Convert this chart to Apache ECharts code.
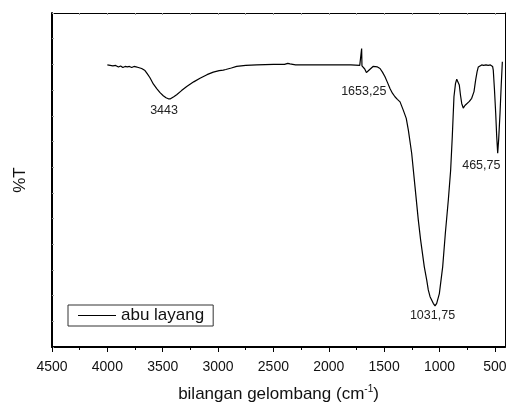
<!DOCTYPE html>
<html>
<head>
<meta charset="utf-8">
<script src="https://cdn.jsdelivr.net/npm/echarts@6/dist/echarts.min.js"></script>
<style>html,body{margin:0;padding:0;background:#fff}#c{width:506px;height:405px}</style>
</head>
<body>
<div id="c"></div>
<script>
// Wavenumber (cm^-1) and transmittance (%T, arbitrary scale)
var wavenumber = [4000,3975,3950,3925,3900,3880,3860,3840,3820,3800,3780,3760,3740,3720,3705,3690,3675,3660,3640,3615,3585,3554,3524,3495,3470,3449,3430,3419,3400,3374,3330,3283,3220,3163,3100,3043,2990,2953,2930,2922,2915,2880,2832,2750,2651,2500,2400,2370,2350,2300,2200,2000,1800,1720,1706,1703,1700,1690,1675,1660,1650,1640,1627,1600,1582,1560,1537,1515,1492,1470,1447,1425,1402,1380,1356,1327,1300,1281,1251,1221,1191,1170,1137,1115,1101,1085,1056,1040,1025,1001,971,947,920,899,884,869,855,844,832,821,810,799,785,770,754,730,709,688,673,660,649,635,619,600,580,560,540,528,520,514,503,492,483,474,465,453,442,432];
var transmittance = [54.9,54.8,54.7,54.8,54.5,54.7,54.4,54.6,54.5,54.6,54.4,54.6,54.5,54.4,54.5,54.2,54.0,53.8,53.2,52.4,51.2,50.3,49.5,48.9,48.5,48.3,48.3,48.4,48.7,49.1,49.9,50.7,51.6,52.3,53.0,53.5,53.8,53.9,54.0,53.9,54.1,54.3,54.6,54.8,54.9,55.0,55.0,55.2,55.1,54.9,54.9,54.9,54.9,54.8,54.8,58.1,54.7,54.6,54.1,53.4,53.5,53.8,54.1,54.6,54.7,54.5,54.2,53.5,52.6,51.5,50.3,49.4,48.7,48.2,47.7,46.1,44.5,42.2,37.7,31.2,24.7,20.8,15.6,13.0,11.1,9.8,8.5,8.0,8.5,10.4,15.6,22.1,28.6,34.4,41.0,48.7,51.3,52.1,51.8,51.0,49.0,47.4,46.5,47.0,47.3,47.8,48.4,49.7,52.0,53.6,54.5,54.8,54.9,54.8,54.9,54.8,54.9,54.9,54.6,53.9,50.0,45.5,41.0,37.7,40.5,45.5,51.0,55.5];
var seriesName = 'abu layang';
var xMajorTicks = [4500,4000,3500,3000,2500,2000,1500,1000,500];
var xMinorTicks = [4250,3750,3250,2750,2250,1750,1250,750];
var xTopTicks = [4250,4000,3750,3500,3250,3000,2750,2500,2250,2000,1750,1500,1250,1000,750,500];
// peak annotations: label text and anchor position (wavenumber, %T)
var peakLabels = ['3443','1653,25','1031,75','465,75'];
var peakLabelX = [3488,1684,1063,622];
var peakLabelY = [46.0,49.7,6.2,35.4];

var XMIN = 408, XMAX = 4500, YMIN = 0, YMAX = 65;
var FONT = '"Liberation Sans", Arial, sans-serif';

var pts = wavenumber.map(function (w, i) { return [w, transmittance[i]]; });
var marks = peakLabels.map(function (t, i) {
  return { coord: [peakLabelX[i], peakLabelY[i]], value: t };
});

var gridBox = { left: 52, right: 1, top: 13, bottom: 58, containLabel: false, outerBoundsMode: 'none' };

var chart = echarts.init(document.getElementById('c'), null, { renderer: 'canvas' });
chart.setOption({
  animation: false,
  backgroundColor: '#fff',
  textStyle: { fontFamily: FONT },
  grid: [ Object.assign({}, gridBox), Object.assign({}, gridBox) ],
  legend: {
    left: 68, top: 305,
    data: [seriesName],
    icon: 'rect', itemWidth: 38, itemHeight: 1,
    padding: [2, 9, 2, 10],
    borderColor: '#333', borderWidth: 1,
    textStyle: { fontSize: 17, color: '#111', fontFamily: FONT },
    itemStyle: { color: '#000' }
  },
  xAxis: [
    {
      gridIndex: 0, type: 'value', inverse: true, min: XMIN, max: XMAX, position: 'bottom',
      name: '{a|bilangan gelombang (cm}{s|-1}{a|)}', nameLocation: 'middle', nameGap: 37,
      nameTextStyle: {
        rich: {
          a: { fontSize: 17, color: '#111', fontFamily: FONT, lineHeight: 20 },
          s: { fontSize: 10, color: '#111', fontFamily: FONT, verticalAlign: 'top', lineHeight: 20, padding: [0, 0, 8, 0] }
        }
      },
      axisLine: { show: true, onZero: false, lineStyle: { color: '#000', width: 2 } },
      axisTick: { show: true, inside: false, length: 5, customValues: xMajorTicks, lineStyle: { color: '#000', width: 1 } },
      axisLabel: { show: true, customValues: xMajorTicks, fontSize: 14, color: '#111', margin: 13, fontFamily: FONT,
        formatter: function (v) { return String(Math.round(v)); } },
      splitLine: { show: false }
    },
    {
      gridIndex: 0, type: 'value', inverse: true, min: XMIN, max: XMAX, position: 'top',
      axisLine: { show: true, onZero: false, lineStyle: { color: '#000', width: 1 } },
      axisTick: { show: true, inside: true, length: 2, customValues: xTopTicks, lineStyle: { color: '#999', width: 1 } },
      axisLabel: { show: false },
      splitLine: { show: false }
    },
    {
      gridIndex: 1, type: 'value', inverse: true, min: XMIN, max: XMAX, position: 'bottom',
      axisLine: { show: false, onZero: false },
      axisTick: { show: true, inside: false, length: 3, customValues: xMinorTicks, lineStyle: { color: '#000', width: 1 } },
      axisLabel: { show: false },
      splitLine: { show: false }
    }
  ],
  yAxis: [
    {
      gridIndex: 0, type: 'value', min: YMIN, max: YMAX, interval: 5, position: 'left',
      name: '%T', nameLocation: 'middle', nameGap: 23,
      nameTextStyle: { fontSize: 17, color: '#111', fontFamily: FONT },
      axisLine: { show: true, onZero: false, lineStyle: { color: '#000', width: 2 } },
      axisTick: { show: true, inside: true, length: 2, lineStyle: { color: '#999', width: 1 } },
      axisLabel: { show: false },
      splitLine: { show: false }
    },
    {
      gridIndex: 0, type: 'value', min: YMIN, max: YMAX, position: 'right',
      axisLine: { show: true, onZero: false, lineStyle: { color: '#000', width: 1 } },
      axisTick: { show: false }, axisLabel: { show: false }, splitLine: { show: false }
    },
    {
      gridIndex: 1, type: 'value', min: YMIN, max: YMAX, show: false
    }
  ],
  series: [
    {
      name: seriesName, type: 'line', xAxisIndex: 0, yAxisIndex: 0,
      data: pts, showSymbol: false, symbol: 'none',
      lineStyle: { color: '#000', width: 1.2 },
      itemStyle: { color: '#000' },
      markPoint: {
        symbol: 'rect', symbolSize: 1,
        itemStyle: { color: 'rgba(0,0,0,0)' },
        label: {
          show: true, position: 'inside', color: '#222', fontSize: 12.5, fontFamily: FONT,
          formatter: function (p) { return p.value; }
        },
        data: marks
      }
    }
  ]
});
</script>
</body>
</html>
